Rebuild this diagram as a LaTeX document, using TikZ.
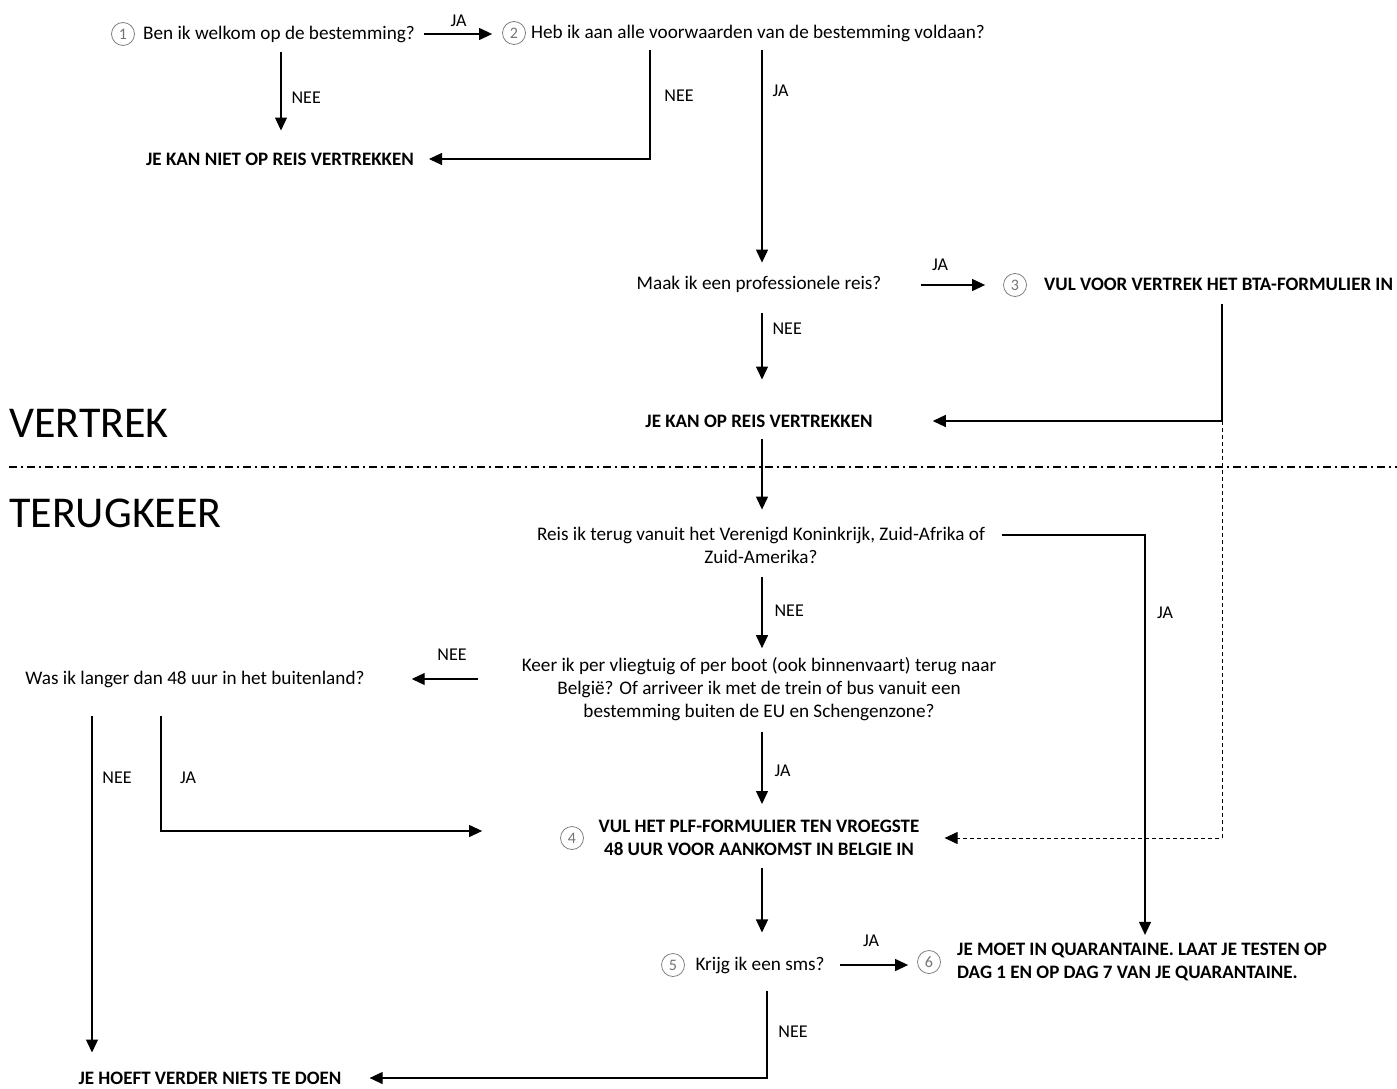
\documentclass[tikz,border=0pt]{standalone}
\usepackage{fontspec}
\setmainfont{Carlito}
\usetikzlibrary{arrows.meta}
\usetikzlibrary{positioning}

\begin{document}
\begin{tikzpicture}[x=1pt,y=-1pt]
  \tikzset{txt/.style = {inner sep=0pt, align=center, font=\fontsize{19.2}{23}\selectfont}}
  \tikzset{res/.style = {txt, font=\fontsize{19}{23}\selectfont\bfseries}}
  \tikzset{num/.style = {circle, draw=black!50, line width=0.8pt, inner sep=0pt,
      minimum size=23pt, text=black!55, font=\fontsize{16}{16}\selectfont}}
  \tikzset{lbl/.style = {inner sep=0pt, font=\fontsize{18}{20}\selectfont}}
  \tikzset{head/.style = {inner sep=0pt, anchor=west, font=\fontsize{44}{50}\selectfont}}
  \tikzset{line/.style = {draw, line width=1.2pt, -{Triangle[length=13pt,width=12pt]}}}

  \useasboundingbox (0,0) rectangle (1397,1089);
  \coordinate (mid) at (762,0);

  %%%%%%%%%%%% vertrek

  \node[num] (n1) at (123,34) {1};
  \node[txt] (q1) at (279,34) {Ben ik welkom op de bestemming?};
  \node[num] (n2) at (514,33) {2};
  \node[txt] (q2) at (758,33) {Heb ik aan alle voorwaarden van de bestemming voldaan?};
  \node[res] (r1) at (280,159) {JE KAN NIET OP REIS VERTREKKEN};

  \draw[line, shorten <=9pt, shorten >=10pt] (q1.east) -- (q1.east -| n2.west)
  node[lbl, midway, above, yshift=7pt] (l1) {JA};
  \draw[line, shorten <=9pt, shorten >=22pt] ([xshift=2pt]q1.south) -- ([xshift=2pt]q1.south |- r1.north)
  node[lbl, midway, right, xshift=10pt] (l2) {NEE};
  \draw[line, shorten <=8pt, shorten >=15pt] ([xshift=-108pt]q2.south) |- (r1.east);
  \node[lbl] (l3) at (679,96) {NEE};

  %%%%%%%%%%%%

  \node[txt] (q3) at (759,284) {Maak ik een professionele reis?};
  \node[num] (n3) at (1015,285) {3};
  \node[res, anchor=west] (r3) at (1044,284) {VUL VOOR VERTREK HET BTA-FORMULIER IN};
  \node[res] (r2) at (759,421) {JE KAN OP REIS VERTREKKEN};
  \coordinate (btacorner) at (1222,421);

  \draw[line, shorten <=8pt, shorten >=13pt] (q2.south -| mid) -- (q3.north -| mid)
  node[lbl, pos=0.21, right, xshift=10pt] (l4) {JA};
  \draw[line, shorten <=39pt, shorten >=18pt] (q3.east |- n3.west) -- (n3.west);
  \node[lbl] (l5) at (940,265) {JA};
  \draw[line, shorten <=21pt, shorten >=35pt] (q3.south -| mid) -- (r2.north -| mid)
  node[lbl, pos=0.3, right, xshift=10pt] (l6) {NEE};
  \draw[line, shorten <=13pt, shorten >=60pt] (r3.south -| btacorner) |- (r2.east);

  %%%%%%%%%%%% scheiding

  \node[head] (vertrek) at (9,423) {VERTREK};
  \node[head] (terugkeer) at (9,513) {TERUGKEER};
  \draw[line width=1.3pt, dash pattern=on 8pt off 4pt on 2pt off 4pt]
  (vertrek.west |- 0,467) coordinate (sepleft) -- (1397,467) coordinate (sepright);

  %%%%%%%%%%%% terugkeer

  \node[txt] (q4) at (761,545) {Reis ik terug vanuit het Verenigd Koninkrijk, Zuid-Afrika of\\Zuid-Amerika?};
  \node[txt] (q5) at (759,689) {Keer ik per vliegtuig of per boot (ook binnenvaart) terug naar\\
    België? Of arriveer ik met de trein of bus vanuit een\\bestemming buiten de EU en Schengenzone?};
  \node[txt] (q6) at (195,679) {Was ik langer dan 48 uur in het buitenland?};
  \node[num] (n4) at (572,838) {4};
  \node[res] (r4) at (759,838) {VUL HET PLF-FORMULIER TEN VROEGSTE\\48 UUR VOOR AANKOMST IN BELGIE IN};
  \node[num] (n5) at (673,965) {5};
  \node[txt] (q7) at (760,965) {Krijg ik een sms?};
  \node[num] (n6) at (929,962) {6};
  \node[res, anchor=west, align=left] (r6) at (957,962) {JE MOET IN QUARANTAINE. LAAT JE TESTEN OP\\DAG 1 EN OP DAG 7 VAN JE QUARANTAINE.};
  \node[res] (r7) at (210,1078) {JE HOEFT VERDER NIETS TE DOEN};
  \coordinate (quarcorner) at (1145,535);
  \coordinate (q6nee) at (92,716);
  \coordinate (q6ja) at (161,716);

  \draw[line, shorten <=12pt, shorten >=17pt] (r2.south -| mid) -- (q4.north -| mid);
  \draw[line, shorten <=17pt, shorten >=8pt] ([yshift=10pt]q4.east) -- (quarcorner) -- (quarcorner |- r6.north);
  \node[lbl] (l7) at (1165,613) {JA};
  \draw[line, shorten <=14pt, shorten >=9pt] (q4.south -| mid) -- (q5.north -| mid)
  node[lbl, midway, right, xshift=12pt] (l8) {NEE};
  \draw[line, shorten <=44pt, shorten >=47pt] (q5.west |- q6.east) -- (q6.east);
  \node[lbl] (l9) at (452,655) {NEE};
  \draw[line, shorten <=11pt, shorten >=16pt] (q5.south -| mid) -- (r4.north -| mid)
  node[lbl, midway, right, xshift=12pt] (l10) {JA};
  \draw[line, line width=1pt, dash pattern=on 4pt off 3pt, shorten >=25pt] (btacorner) |- (r4.east);

  \draw[line, shorten >=19pt] (q6nee) -- (q6nee |- r7.north);
  \node[lbl] (l11) at (117,778) {NEE};
  \draw[line, shorten >=78pt] (q6ja) |- ([yshift=7pt]n4.west);
  \node[lbl] (l12) at (188,778) {JA};

  %%%%%%%%%%%%

  \draw[line, shorten <=12pt, shorten >=24pt] (r4.south -| mid) -- (q7.north -| mid);
  \draw[line, shorten <=15pt, shorten >=9pt] (q7.east) -- (q7.east -| n6.west);
  \node[lbl] (l13) at (871,941) {JA};
  \draw[line, shorten <=17pt, shorten >=28pt] ([xshift=7pt]q7.south) |- (r7.east);
  \node[lbl] (l14) at (793,1032) {NEE};

\end{tikzpicture}
\end{document}
